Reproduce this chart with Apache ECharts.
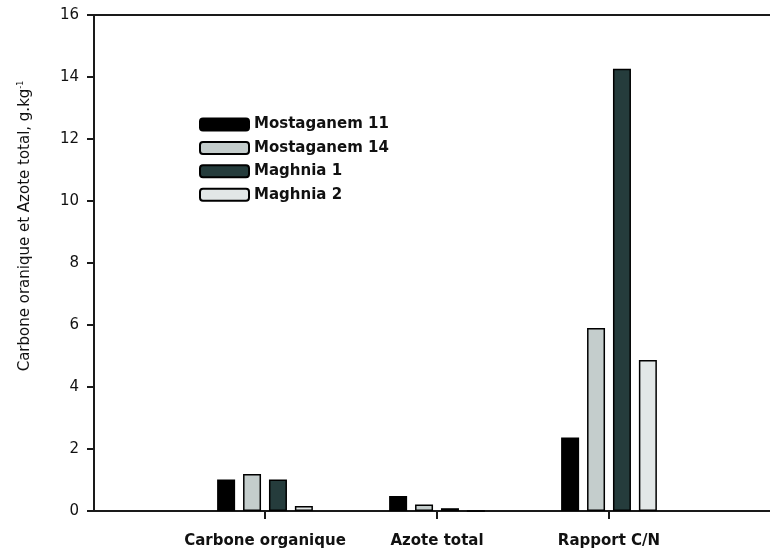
<!DOCTYPE html>
<html>
<head>
<meta charset="utf-8">
<script src="https://cdn.jsdelivr.net/npm/echarts@6/dist/echarts.min.js"></script>
<style>
  html, body { margin: 0; padding: 0; background: #fff; }
  #chart { width: 770px; height: 549px; }
</style>
</head>
<body>
<div id="chart"></div>
<script>
// Soil measurements per site
const categories = ['Carbone organique', 'Azote total', 'Rapport C/N'];
const seriesNames = ['Mostaganem 11', 'Mostaganem 14', 'Maghnia 1', 'Maghnia 2'];
const mostaganem11 = [1.02, 0.48, 2.37];
const mostaganem14 = [1.19, 0.21, 5.90];
const maghnia1 = [1.02, 0.09, 14.27];
const maghnia2 = [0.16, 0.0, 4.87];
const yTicks = [0, 2, 4, 6, 8, 10, 12, 14, 16];

const seriesValues = [mostaganem11, mostaganem14, maghnia1, maghnia2];
const fills = ['#000000', '#c4cdcc', '#253c3c', '#e2e7e7'];

const chart = echarts.init(document.getElementById('chart'), null, { renderer: 'canvas' });

const font = '"DejaVu Sans", Verdana, sans-serif';
const TOP = 15, BOTTOM = 38;
const frameLine = { show: true, lineStyle: { color: '#1a1a1a', width: 2 } };

chart.setOption({
  animation: false,
  backgroundColor: '#ffffff',
  grid: [
    // value axis + frame lines (open on the right)
    { left: 94, right: 0, top: TOP, bottom: BOTTOM },
    // category band for the bars
    { left: 179, width: 516, top: TOP, bottom: BOTTOM }
  ],
  legend: {
    data: seriesNames,
    orient: 'vertical',
    left: 194,
    top: 112,
    itemWidth: 49,
    itemHeight: 12,
    itemGap: 8.4,
    icon: 'roundRect',
    textStyle: { fontFamily: font, fontSize: 15, fontWeight: 'bold', color: '#111', lineHeight: 14 }
  },
  xAxis: [
    {
      gridIndex: 0, type: 'value', min: 0, max: 1, position: 'bottom',
      axisLine: frameLine, axisTick: { show: false },
      axisLabel: { show: false }, splitLine: { show: false }
    },
    {
      gridIndex: 0, type: 'value', min: 0, max: 1, position: 'top',
      axisLine: frameLine, axisTick: { show: false },
      axisLabel: { show: false }, splitLine: { show: false }
    },
    {
      gridIndex: 1, type: 'category', data: categories,
      axisLine: { show: false },
      axisTick: { show: true, alignWithLabel: true, interval: 0, length: 8, lineStyle: { color: '#1a1a1a', width: 2 } },
      axisLabel: { interval: 0, margin: 23, fontFamily: font, fontSize: 15, fontWeight: 'bold', color: '#111' },
      splitLine: { show: false }
    }
  ],
  yAxis: [
    {
      gridIndex: 0, type: 'value', min: yTicks[0], max: yTicks[yTicks.length - 1], interval: 2,
      axisLine: frameLine,
      axisTick: { show: true, inside: false, length: 7, lineStyle: { color: '#1a1a1a', width: 2 } },
      axisLabel: { margin: 15, fontFamily: font, fontSize: 15, color: '#111' },
      splitLine: { show: false }
    },
    {
      gridIndex: 1, type: 'value', min: yTicks[0], max: yTicks[yTicks.length - 1],
      show: false, splitLine: { show: false }
    }
  ],
  series: seriesNames.map((name, i) => ({
    name: name,
    type: 'bar',
    xAxisIndex: 2,
    yAxisIndex: 1,
    data: seriesValues[i],
    barWidth: 18,
    barGap: '44%',
    itemStyle: { color: fills[i], borderColor: '#000', borderWidth: 1.5 }
  })),
  graphic: [
    {
      type: 'text',
      x: 25,
      y: 226,
      rotation: Math.PI / 2,
      style: {
        text: '{m|Carbone oranique et Azote total, g.kg}{s|-1}',
        rich: {
          m: { fontFamily: font, fontSize: 15, fill: '#111' },
          s: { fontFamily: font, fontSize: 8, fill: '#111', verticalAlign: 'top', padding: [0, 0, 8, 0] }
        },
        align: 'center',
        verticalAlign: 'middle'
      }
    }
  ]
});
</script>
</body>
</html>
